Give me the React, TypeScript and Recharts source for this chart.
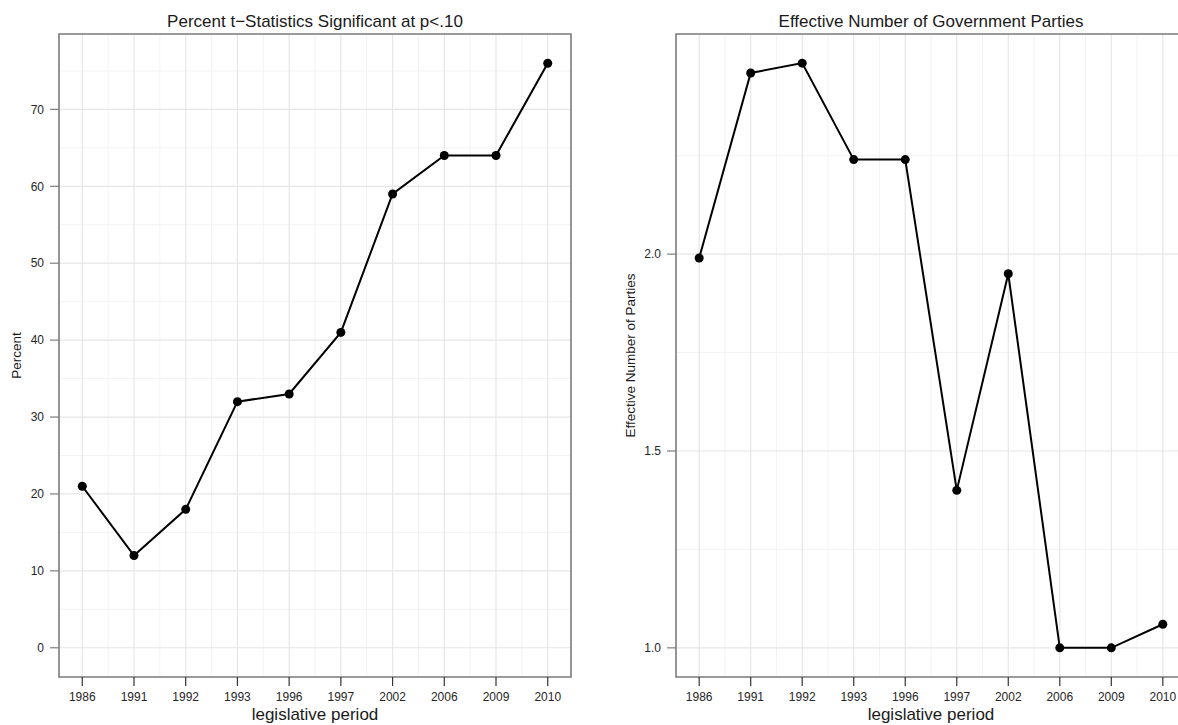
import React from "react";
import {
  LineChart,
  Line,
  XAxis,
  YAxis,
  CartesianGrid,
  ReferenceArea,
} from "recharts";

// legislative periods (x categories)
const periods = ["1986", "1991", "1992", "1993", "1996", "1997", "2002", "2006", "2009", "2010"];

// left panel: percent of t-statistics significant at p<.10
const pctSignificant = [21, 12, 18, 32, 33, 41, 59, 64, 64, 76];
const pctTicks = [0, 10, 20, 30, 40, 50, 60, 70];
const pctMinorTicks = [5, 15, 25, 35, 45, 55, 65, 75];

// right panel: effective number of government parties
const effParties = [1.99, 2.46, 2.485, 2.24, 2.24, 1.4, 1.95, 1.0, 1.0, 1.06];
const partyTicks = [1.0, 1.5, 2.0];
const partyMinorTicks = [1.25, 1.75, 2.25];

const xTicks = periods.map((_, i) => i + 1);
const xMinorTicks = periods.slice(1).map((_, i) => i + 1.5);
const X_DOMAIN: [number, number] = [0.55, 10.45];

const FONT = '"Liberation Sans", Arial, Helvetica, sans-serif';
const GRID_MAJOR = "#e6e6e6";
const GRID_MINOR = "#f3f3f3";
const BORDER = "#7f7f7f";
const TEXT = "#262626";

interface PanelProps {
  values: number[];
  yDomain: [number, number];
  yTicks: number[];
  yMinor: number[];
  yLabel: string;
  yLabelOffset: number;
  yAxisWidth: number;
  rightMargin: number;
  width: number;
  fmt?: (v: number) => string;
}

function Panel({ values, yDomain, yTicks, yMinor, yLabel, yLabelOffset, yAxisWidth, rightMargin, width, fmt }: PanelProps) {
  const data = values.map((v, i) => ({ x: i + 1, value: v }));
  return (
    <LineChart
      width={width}
      height={725}
      data={data}
      margin={{ top: 34, right: rightMargin, bottom: 0, left: 0 }}
    >
      <XAxis xAxisId="minor" type="number" dataKey="x" domain={X_DOMAIN} ticks={xMinorTicks} allowDataOverflow hide />
      <YAxis yAxisId="minor" type="number" domain={yDomain} ticks={yMinor} allowDataOverflow hide />
      <CartesianGrid xAxisId="minor" yAxisId="minor" stroke={GRID_MINOR} strokeWidth={1} />
      <CartesianGrid xAxisId="major" yAxisId="major" stroke={GRID_MAJOR} strokeWidth={1.2} />
      <XAxis
        xAxisId="major"
        type="number"
        dataKey="x"
        domain={X_DOMAIN}
        ticks={xTicks}
        interval={0}
        allowDataOverflow
        height={48}
        axisLine={false}
        tickSize={9}
        tickMargin={6}
        tickLine={{ stroke: "#333", strokeWidth: 1.2 }}
        tick={{ fontSize: 12, fill: TEXT }}
        tickFormatter={(v: number) => periods[v - 1]}
        label={{ value: "legislative period", position: "insideBottom", offset: 5, fontSize: 17, fill: "#1a1a1a" }}
      />
      <YAxis
        yAxisId="major"
        type="number"
        domain={yDomain}
        ticks={yTicks}
        interval={0}
        allowDataOverflow
        width={yAxisWidth}
        axisLine={false}
        tickSize={9}
        tickMargin={6}
        tickLine={{ stroke: BORDER, strokeWidth: 1.2 }}
        tick={{ fontSize: 12, fill: TEXT }}
        tickFormatter={fmt}
        label={{
          value: yLabel,
          angle: -90,
          position: "insideLeft",
          offset: yLabelOffset,
          fontSize: 13.5,
          fill: "#1a1a1a",
          style: { textAnchor: "middle" },
        }}
      />
      <ReferenceArea
        xAxisId="major"
        yAxisId="major"
        x1={X_DOMAIN[0]}
        x2={X_DOMAIN[1]}
        y1={yDomain[0]}
        y2={yDomain[1]}
        fill="none"
        fillOpacity={0}
        stroke={BORDER}
        strokeWidth={1.6}
        ifOverflow="visible"
      />
      <Line
        xAxisId="major"
        yAxisId="major"
        type="linear"
        dataKey="value"
        stroke="#000"
        strokeWidth={2}
        dot={{ r: 4.5, fill: "#000", stroke: "#000", strokeWidth: 0 }}
        activeDot={false}
        isAnimationActive={false}
      />
    </LineChart>
  );
}

const titleStyle: React.CSSProperties = {
  position: "absolute",
  top: 12,
  fontSize: 17,
  color: "#1a1a1a",
  whiteSpace: "nowrap",
  transform: "translateX(-50%)",
  lineHeight: "20px",
};

export default function App() {
  return (
    <div
      style={{
        position: "fixed",
        left: 0,
        top: 0,
        width: 1178,
        height: 725,
        overflow: "hidden",
        background: "#fff",
        fontFamily: FONT,
      }}
    >
      <div style={{ position: "absolute", left: 0, top: 0 }}>
        <Panel
          values={pctSignificant}
          yDomain={[-3.8, 79.8]}
          yTicks={pctTicks}
          yMinor={pctMinorTicks}
          yLabel="Percent"
          yLabelOffset={16}
          yAxisWidth={59}
          rightMargin={29}
          width={600}
        />
      </div>
      <div style={{ position: "absolute", left: 600, top: 0 }}>
        <Panel
          values={effParties}
          yDomain={[0.926, 2.559]}
          yTicks={partyTicks}
          yMinor={partyMinorTicks}
          yLabel="Effective Number of Parties"
          yLabelOffset={30}
          yAxisWidth={76}
          rightMargin={14}
          width={600}
          fmt={(v: number) => v.toFixed(1)}
        />
      </div>
      <div style={{ ...titleStyle, left: 315 }}>Percent t−Statistics Significant at p&lt;.10</div>
      <div style={{ ...titleStyle, left: 931 }}>Effective Number of Government Parties</div>
    </div>
  );
}
